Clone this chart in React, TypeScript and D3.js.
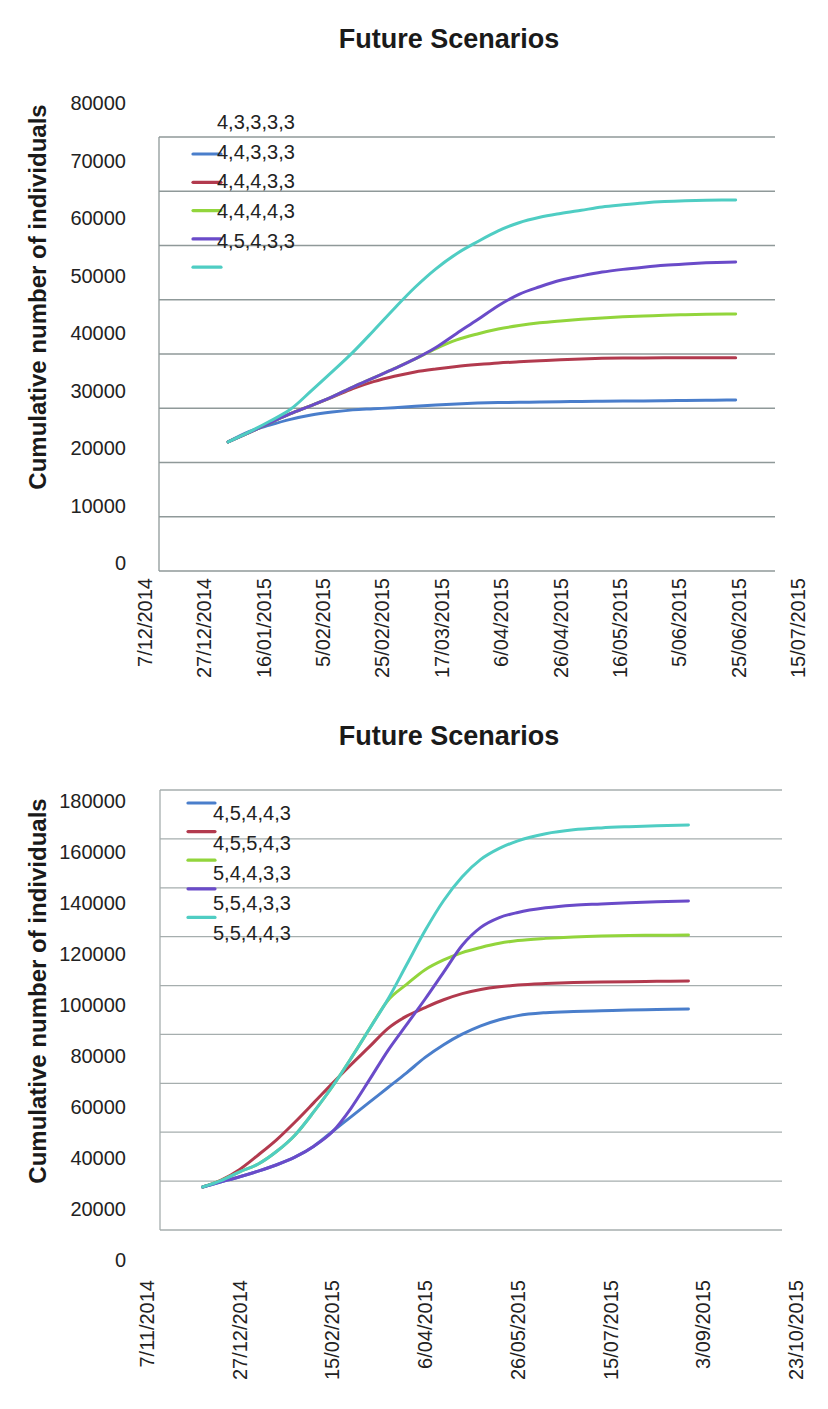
import React from "react";
import * as d3 from "d3";

const W = 828;
const H = 1409;

const seriesColors = ["#4A7ECB", "#B23A4E", "#92D53C", "#6A4BC9", "#4FCDC3"];

// ---------- Top chart data ----------
const topDates = [
  "2015-01-04", "2015-01-11", "2015-01-18", "2015-01-25", "2015-02-01", "2015-02-08",
  "2015-02-15", "2015-02-22", "2015-03-01", "2015-03-08", "2015-03-15", "2015-03-22",
  "2015-03-29", "2015-04-05", "2015-04-12", "2015-04-19", "2015-04-26", "2015-05-03",
  "2015-05-10", "2015-05-17", "2015-05-24", "2015-05-31", "2015-06-07", "2015-06-14",
  "2015-06-21", "2015-06-24",
];
const topLabels = ["4,3,3,3,3", "4,4,3,3,3", "4,4,4,3,3", "4,4,4,4,3", "4,5,4,3,3"];
const topBlue = [23800, 25700, 26900, 27950, 28750, 29300, 29700, 29900, 30100, 30350, 30600, 30800, 30950, 31050, 31100, 31150, 31200, 31250, 31300, 31330, 31350, 31400, 31450, 31480, 31500, 31520];
const topRed = [23800, 25500, 27300, 29000, 30500, 32000, 33600, 34900, 35900, 36700, 37250, 37700, 38050, 38350, 38550, 38750, 38950, 39100, 39200, 39250, 39280, 39300, 39300, 39320, 39330, 39330];
const topGreen = [23800, 25500, 27300, 29000, 30500, 32100, 33900, 35600, 37300, 39100, 41000, 42600, 43700, 44600, 45250, 45750, 46100, 46400, 46640, 46850, 47000, 47150, 47250, 47320, 47360, 47370];
const topPurple = [23800, 25500, 27300, 29000, 30500, 32100, 33900, 35600, 37300, 39100, 41200, 43800, 46300, 48900, 51000, 52400, 53600, 54400, 55100, 55600, 56000, 56350, 56600, 56800, 56930, 56960];
const topCyan = [23800, 25600, 27600, 29800, 33200, 36700, 40300, 44300, 48400, 52300, 55700, 58500, 60700, 62700, 64200, 65200, 65900, 66500, 67100, 67500, 67850, 68100, 68250, 68330, 68380, 68400];
const topXDomain = ["2014-12-07", "2015-07-15"];
const topYTicks = [0, 10000, 20000, 30000, 40000, 50000, 60000, 70000, 80000];

// ---------- Bottom chart data ----------
const botDates = [
  "2014-12-07", "2014-12-17", "2014-12-27", "2015-01-06", "2015-01-16", "2015-01-26",
  "2015-02-05", "2015-02-15", "2015-02-25", "2015-03-07", "2015-03-17", "2015-03-27",
  "2015-04-06", "2015-04-16", "2015-04-26", "2015-05-06", "2015-05-16", "2015-05-26",
  "2015-06-10", "2015-06-25", "2015-07-10", "2015-07-25", "2015-08-09", "2015-08-26",
];
const botLabels = ["4,5,4,4,3", "4,5,5,4,3", "5,4,4,3,3", "5,5,4,3,3", "5,5,4,4,3"];
const botBlue = [17600, 19700, 21800, 24100, 26700, 29900, 34300, 40300, 46300, 52300, 58300, 64300, 70600, 75800, 80100, 83500, 86000, 87700, 88900, 89400, 89700, 90000, 90200, 90400];
const botRed = [17600, 20400, 24800, 30700, 37000, 44300, 52100, 60000, 67600, 75000, 82500, 87500, 91000, 94200, 96700, 98400, 99500, 100200, 100800, 101200, 101450, 101600, 101750, 101860];
const botGreen = [17600, 20200, 23800, 27000, 32200, 39000, 48400, 58700, 70200, 82300, 94000, 100500, 106500, 110500, 113500, 115600, 117300, 118400, 119300, 119900, 120270, 120450, 120580, 120680];
const botPurple = [17600, 19700, 21800, 24100, 26700, 29900, 34300, 40200, 49800, 61500, 73500, 84000, 94500, 105500, 116500, 123800, 127800, 129900, 131800, 132900, 133400, 133900, 134300, 134590];
const botCyan = [17600, 20200, 23800, 27000, 32200, 39000, 48400, 58700, 70200, 82300, 94500, 108500, 122500, 134800, 144500, 151600, 156100, 159200, 162100, 163700, 164500, 165000, 165400, 165700];
const botXDomain = ["2014-11-07", "2015-10-23"];
const botYTicks = [0, 20000, 40000, 60000, 80000, 100000, 120000, 140000, 160000, 180000];

const parse = d3.utcParse("%Y-%m-%d");
const fmt = d3.utcFormat("%-d/%m/%Y");
const FONT = "'Liberation Sans', Arial, Helvetica, sans-serif";

type ChartCfg = {
  dates: string[];
  series: number[][];
  labels: string[];
  xDomain: string[];
  xRange: [number, number];
  tickStep: number;
  yTicks: number[];
  plot: { left: number; right: number; top: number; bottom: number };
  labelYRange: [number, number];
  xLabelTop: number;
  titleY: number;
  yTitleY: number;
  gridColor: string;
  legend: { x1: number; x2: number; y0: number; dy: number; tx: number; ty0: number; tdy: number };
};

function Chart({ cfg }: { cfg: ChartCfg }) {
  const { plot } = cfg;
  const yMax = cfg.yTicks[cfg.yTicks.length - 1];
  const x = d3.scaleUtc().domain(cfg.xDomain.map((s) => parse(s)!)).range(cfg.xRange);
  const y = d3.scaleLinear().domain([0, yMax]).range([plot.bottom, plot.top]);
  const yLab = d3.scaleLinear().domain([0, yMax]).range(cfg.labelYRange);
  const d0 = parse(cfg.xDomain[0])!;
  const d1 = parse(cfg.xDomain[1])!;
  const xTicks = d3.utcDay.range(d0, d3.utcDay.offset(d1, 1), cfg.tickStep);
  const dates = cfg.dates.map((s) => parse(s)!);
  const line = d3
    .line<number>()
    .x((_, i) => x(dates[i]))
    .y((v) => y(v))
    .curve(d3.curveMonotoneX);

  return (
    <g>
      <text x={449} y={cfg.titleY} textAnchor="middle" fontFamily={FONT} fontWeight="bold" fontSize={27} fill="#1a1a1a">
        Future Scenarios
      </text>
      <text
        transform={`translate(46,${cfg.yTitleY}) rotate(-90)`}
        textAnchor="middle"
        fontFamily={FONT}
        fontWeight="bold"
        fontSize={24}
        fill="#1a1a1a"
      >
        Cumulative number of individuals
      </text>
      {cfg.yTicks.map((t) => (
        <line key={"g" + t} x1={plot.left} x2={plot.right} y1={y(t)} y2={y(t)} stroke={cfg.gridColor} strokeWidth={1.3} />
      ))}
      <line x1={plot.left} x2={plot.left} y1={plot.top} y2={plot.bottom} stroke={cfg.gridColor} strokeWidth={1.3} />
      {cfg.yTicks.map((t) => (
        <text key={"yl" + t} x={126} y={yLab(t)} dy="0.35em" textAnchor="end" fontFamily={FONT} fontSize={20} fill="#222">
          {t}
        </text>
      ))}
      {xTicks.map((t) => (
        <text
          key={"xl" + t.getTime()}
          transform={`translate(${x(t)},${cfg.xLabelTop}) rotate(-90)`}
          dy="0.35em"
          textAnchor="end"
          fontFamily={FONT}
          fontSize={20}
          fill="#222"
        >
          {fmt(t)}
        </text>
      ))}
      {cfg.series.map((s, i) => (
        <path key={"s" + i} d={line(s) || ""} fill="none" stroke={seriesColors[i]} strokeWidth={3} strokeLinejoin="round" strokeLinecap="round" />
      ))}
      {cfg.series.map((_, i) => (
        <line
          key={"lg" + i}
          x1={cfg.legend.x1}
          x2={cfg.legend.x2}
          y1={cfg.legend.y0 + i * cfg.legend.dy}
          y2={cfg.legend.y0 + i * cfg.legend.dy}
          stroke={seriesColors[i]}
          strokeWidth={3.2}
          strokeLinecap="round"
        />
      ))}
      {cfg.labels.map((l, i) => (
        <text
          key={"lt" + i}
          x={cfg.legend.tx}
          y={cfg.legend.ty0 + i * cfg.legend.tdy}
          dy="0.35em"
          fontFamily={FONT}
          fontSize={20}
          fill="#222"
        >
          {l}
        </text>
      ))}
    </g>
  );
}

const topCfg: ChartCfg = {
  dates: topDates,
  series: [topBlue, topRed, topGreen, topPurple, topCyan],
  labels: topLabels,
  xDomain: topXDomain,
  xRange: [145, 798],
  tickStep: 20,
  yTicks: topYTicks,
  plot: { left: 159, right: 775, top: 137, bottom: 571 },
  labelYRange: [563, 103],
  xLabelTop: 578,
  titleY: 48,
  yTitleY: 297,
  gridColor: "#8f9999",
  legend: { x1: 193, x2: 221, y0: 154, dy: 28.3, tx: 217, ty0: 122, tdy: 29.7 },
};

const botCfg: ChartCfg = {
  dates: botDates,
  series: [botBlue, botRed, botGreen, botPurple, botCyan],
  labels: botLabels,
  xDomain: botXDomain,
  xRange: [147, 796],
  tickStep: 50,
  yTicks: botYTicks,
  plot: { left: 160, right: 782, top: 790, bottom: 1230 },
  labelYRange: [1260, 801],
  xLabelTop: 1280,
  titleY: 745,
  yTitleY: 991,
  gridColor: "#a6aeae",
  legend: { x1: 188, x2: 215, y0: 803, dy: 28.6, tx: 213, ty0: 813, tdy: 29.9 },
};

export default function App() {
  return (
    <svg width={W} height={H} style={{ position: "absolute", left: 0, top: 0, background: "#fff" }}>
      <rect width={W} height={H} fill="#fff" />
      <Chart cfg={topCfg} />
      <Chart cfg={botCfg} />
    </svg>
  );
}
